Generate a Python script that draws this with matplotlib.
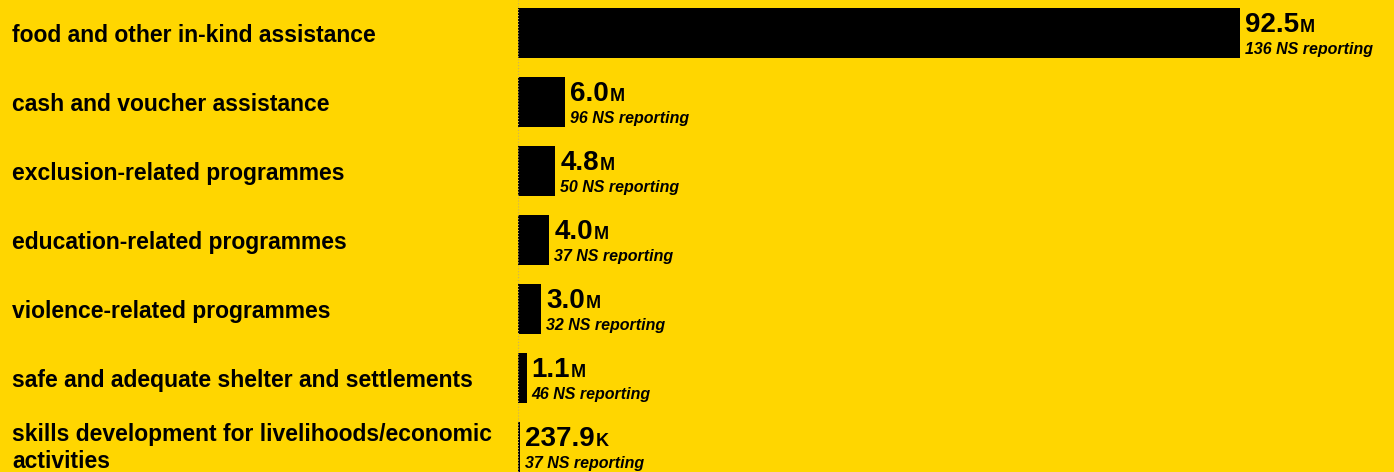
import matplotlib.pyplot as plt

# data: reach per programme type, in millions of people
categories = [
    'food and other in-kind assistance',
    'cash and voucher assistance',
    'exclusion-related programmes',
    'education-related programmes',
    'violence-related programmes',
    'safe and adequate shelter and settlements',
    'skills development for livelihoods/economic\nactivities',
]
values_m = [92.5, 6.0, 4.8, 4.0, 3.0, 1.1, 0.2379]
value_labels = ['92.5', '6.0', '4.8', '4.0', '3.0', '1.1', '237.9']
units = ['M', 'M', 'M', 'M', 'M', 'M', 'K']
ns_reporting = [136, 96, 50, 37, 32, 46, 37]

bg = '#FFD600'
plt.rcParams['font.family'] = ['Liberation Sans', 'DejaVu Sans']

W, H = 1394, 472
fig = plt.figure(figsize=(W / 100, H / 100), dpi=100, facecolor=bg)
ax = fig.add_axes([518 / W, 0, 1 - 518 / W, 1])
ax.set_facecolor(bg)

px_per_m = 722 / 92.5
ax.set_xlim(0, (W - 518) / px_per_m)
ax.set_ylim((H - 33) / 69, -33 / 69)

rows = list(range(len(categories)))
ax.barh(rows, values_m, height=50 / 69, color='black', left=0)
ax.axvline(0, color='#c8b060', linestyle=':', linewidth=0.8)

# category names, baseline-aligned; wrapped names are split into lines 27px apart
for i, name in enumerate(categories):
    lines = name.split('\n')
    centre = 33 + 69 * i
    first = centre + 9 - 27 * (len(lines) - 1) / 2 - (2 if len(lines) > 1 else 0)
    for k, line in enumerate(lines):
        fig.text(12 / W, 1 - (first + 27 * k) / H, line, ha='left', va='baseline',
                 fontsize=16.5, fontweight='bold', color='black')

fig.canvas.draw()
renderer = fig.canvas.get_renderer()
for i, v in enumerate(values_m):
    num = ax.annotate(value_labels[i], xy=(v, i), xytext=(5, 1),
                      textcoords='offset pixels', ha='left', va='baseline',
                      fontsize=20, fontweight='bold', color='black')
    bb = num.get_window_extent(renderer)
    ax.annotate(units[i], xy=(v, i), xytext=(5 + bb.width + 1, 1),
                textcoords='offset pixels', ha='left', va='baseline',
                fontsize=13, fontweight='bold', color='black')
    ax.annotate(f'{ns_reporting[i]} NS reporting', xy=(v, i), xytext=(5, -21),
                textcoords='offset pixels', ha='left', va='baseline',
                fontsize=11.5, fontweight='bold', fontstyle='italic', color='black')

ax.axis('off')
fig.savefig('out.png', dpi=100, facecolor=bg)
